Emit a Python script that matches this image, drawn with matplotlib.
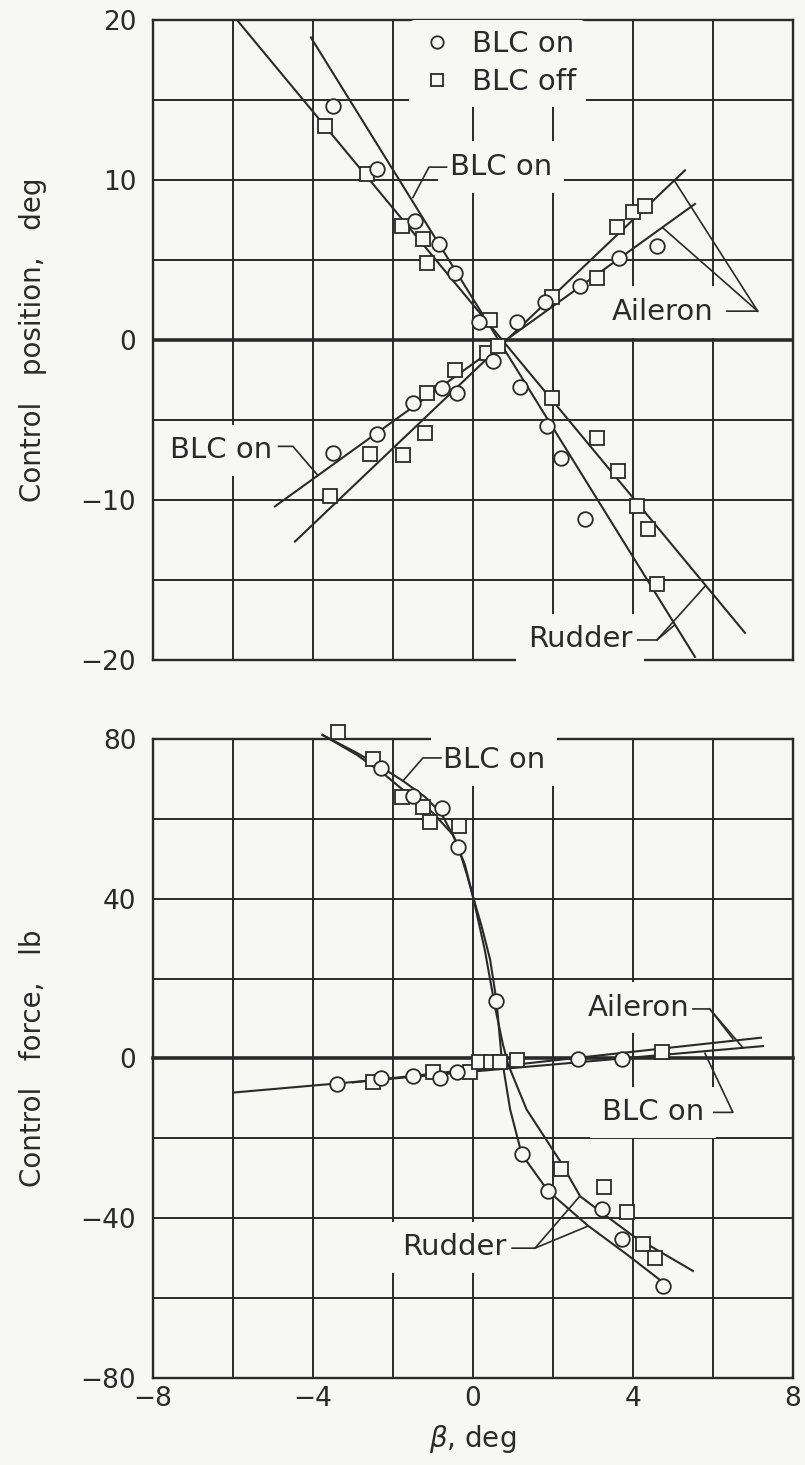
import matplotlib
matplotlib.use('Agg')
import matplotlib.pyplot as plt

BG = '#f7f7f4'
INK = '#2a2a2a'

# ---- top panel: control position, deg ----
pos_on_x = [-3.5, -2.4, -1.45, -0.85, -0.45, 0.15, 1.1, 1.8, 2.68, 3.65, 4.6,
            -3.5, -2.4, -1.5, -0.78, -0.4, 0.5, 1.17, 1.85, 2.2, 2.8]
pos_on_y = [14.6, 10.7, 7.45, 6.0, 4.2, 1.1, 1.1, 2.35, 3.4, 5.1, 5.9,
            -7.05, -5.9, -3.95, -3.0, -3.3, -1.3, -2.95, -5.4, -7.4, -11.2]
pos_off_x = [-3.7, -2.65, -1.78, -1.25, -1.15, 0.43, 1.97, 3.1, 3.6, 4.0, 4.3,
             -3.57, -2.58, -1.75, -1.2, -1.15, -0.45, 0.35, 0.62,
             1.97, 3.1, 3.63, 4.1, 4.38, 4.6]
pos_off_y = [13.4, 10.4, 7.1, 6.3, 4.8, 1.25, 2.7, 3.9, 7.05, 8.0, 8.4,
             -9.75, -7.1, -7.2, -5.8, -3.3, -1.9, -0.8, -0.4,
             -3.6, -6.1, -8.2, -10.4, -11.8, -15.25]

# faired lines (end points)
ail_on_pos_x = [-4.95, 5.55]
ail_on_pos_y = [-10.4, 8.5]
ail_off_pos_x = [-4.45, 5.3]
ail_off_pos_y = [-12.6, 10.6]
rud_on_pos_x = [-4.05, 5.55]
rud_on_pos_y = [18.9, -19.8]
rud_off_pos_x = [-5.9, 6.8]
rud_off_pos_y = [20.0, -18.3]

# ---- bottom panel: control force, lb ----
frc_on_x = [-2.3, -1.5, -0.78, -0.37, 0.58, 1.22, 1.88, 3.22, 3.72, 4.75,
            -3.4, -2.3, -1.5, -0.82, -0.4, 2.63, 3.72]
frc_on_y = [72.8, 65.8, 62.7, 53.0, 14.3, -24.0, -33.2, -37.8, -45.2, -57.0,
            -6.3, -5.0, -4.4, -5.0, -3.4, -0.25, -0.25]
frc_off_x = [-3.37, -2.5, -1.78, -1.25, -1.07, -0.35, 2.2, 3.27, 3.85, 4.25, 4.55,
             -2.5, -1.0, -0.07, 0.15, 0.45, 0.67, 1.1, 4.72]
frc_off_y = [81.8, 75.0, 65.5, 63.0, 59.3, 58.2, -27.75, -32.3, -38.5, -46.5, -50.0,
             -6.0, -3.4, -3.4, -1.0, -0.8, -1.0, -0.3, 1.5]

rud_on_frc_x = [-3.76, -2.9, -2.3, -1.75, -1.2, -0.8, -0.4, -0.15, 0.0, 0.22, 0.43,
                0.59, 0.72, 0.76, 0.93, 1.22, 1.88, 2.88, 3.84, 4.76]
rud_on_frc_y = [81.0, 76.5, 73.0, 69.5, 65.5, 61.5, 54.0, 46.0, 40.6, 33.0, 24.75,
                14.3, -0.25, -2.3, -12.75, -24.0, -33.2, -41.9, -49.0, -56.1]
rud_off_frc_x = [-3.76, -2.9, -2.2, -1.6, -1.0, -0.5, -0.2, 0.0, 0.3, 0.55, 0.75,
                 0.88, 1.34, 2.18, 2.68, 3.22, 4.0, 5.5]
rud_off_frc_y = [81.0, 76.0, 71.0, 66.0, 61.5, 56.0, 48.5, 40.6, 27.0, 13.0, 3.5,
                 -1.5, -12.75, -25.7, -34.5, -38.6, -44.4, -53.2]
ail_on_frc_x = [-5.95, 7.25]
ail_on_frc_y = [-8.5, 3.1]
ail_off_frc_x = [-3.0, 7.2]
ail_off_frc_y = [-6.0, 5.2]

plt.rcParams['font.family'] = ['DejaVu Sans']
plt.rcParams['mathtext.fontset'] = 'dejavusans'

fig = plt.figure(figsize=(8.05, 14.65), dpi=100, facecolor=BG)
ax1 = fig.add_axes([0.190, 0.5495, 0.795, 0.4369])
ax2 = fig.add_axes([0.190, 0.0594, 0.795, 0.4362])

TXT = 21


def style(ax, ymin, ymax, ystep, ylabels, show_x):
    ax.set_facecolor(BG)
    ax.set_xlim(-8, 8)
    ax.set_ylim(ymin, ymax)
    ax.set_xticks(range(-8, 9, 2))
    ax.set_yticks(range(ymin, ymax + 1, ystep))
    if show_x:
        ax.set_xticklabels(['\u22128' if v == -8 else '\u22124' if v == -4 else str(v) if v % 4 == 0 else ''
                            for v in range(-8, 9, 2)])
    else:
        ax.set_xticklabels([])
    ax.set_yticklabels(ylabels)
    ax.grid(True, color=INK, lw=1.4, zorder=0)
    ax.set_axisbelow(True)
    ax.axhline(0, color=INK, lw=2.6, zorder=1)
    for s in ax.spines.values():
        s.set_linewidth(1.7)
        s.set_color(INK)
    ax.tick_params(length=0, labelsize=19, colors=INK)
    ax.tick_params(axis='y', pad=12)
    ax.tick_params(axis='x', pad=6)


def label(ax, x, y, s):
    ax.text(x, y, s, fontsize=TXT, color=INK, ha='left', va='center', zorder=3,
            bbox=dict(boxstyle='square,pad=0.4', fc=BG, ec='none'))


def leader(ax, xs, ys):
    ax.plot(xs, ys, color=INK, lw=1.2, zorder=4)


def markers(ax, xo, yo, xf, yf):
    h1, = ax.plot(xo, yo, 'o', ms=10.5, mfc=BG, mec=INK, mew=1.3, zorder=6, label='BLC on')
    h2, = ax.plot(xf, yf, 's', ms=9.5, mfc=BG, mec=INK, mew=1.3, zorder=5, label='BLC off')
    return h1, h2


# ---------- top ----------
ylab1 = ['\u221220', '', '\u221210', '', '0', '', '10', '', '20']
style(ax1, -20, 20, 5, ylab1, False)
for xs, ys in [(ail_on_pos_x, ail_on_pos_y), (ail_off_pos_x, ail_off_pos_y),
               (rud_on_pos_x, rud_on_pos_y), (rud_off_pos_x, rud_off_pos_y)]:
    ax1.plot(xs, ys, color=INK, lw=1.5, zorder=4)
h1, h2 = markers(ax1, pos_on_x, pos_on_y, pos_off_x, pos_off_y)
ax1.legend(handles=[h1, h2], loc='upper left', bbox_to_anchor=(0.40, 1.0),
           borderaxespad=0.0, frameon=True, facecolor=BG, edgecolor='none',
           framealpha=1, fontsize=TXT, labelcolor=INK, handletextpad=0.6,
           handlelength=1.2, borderpad=0.35, labelspacing=0.35, markerscale=0.85)

label(ax1, -0.58, 10.8, 'BLC on')
leader(ax1, [-0.66, -1.1, -1.5], [10.8, 10.8, 8.9])
label(ax1, 3.47, 1.75, 'Aileron')
leader(ax1, [6.35, 7.12, 5.05], [1.8, 1.8, 9.9])
leader(ax1, [7.12, 4.75], [1.8, 7.0])
label(ax1, -7.57, -6.9, 'BLC on')
leader(ax1, [-4.86, -4.5, -3.9], [-6.65, -6.65, -8.4])
label(ax1, 1.37, -18.7, 'Rudder')
leader(ax1, [4.12, 4.6, 5.05], [-18.75, -18.75, -17.8])
leader(ax1, [4.6, 5.8], [-18.75, -15.4])
ax1.set_ylabel('Control   position,   deg', fontsize=20, color=INK)
ax1.yaxis.set_label_coords(-0.165, 0.5)

# ---------- bottom ----------
ylab2 = ['\u221280', '', '\u221240', '', '0', '', '40', '', '80']
style(ax2, -80, 80, 20, ylab2, True)
for xs, ys in [(ail_on_frc_x, ail_on_frc_y), (ail_off_frc_x, ail_off_frc_y),
               (rud_on_frc_x, rud_on_frc_y), (rud_off_frc_x, rud_off_frc_y)]:
    ax2.plot(xs, ys, color=INK, lw=1.5, zorder=4)
markers(ax2, frc_on_x, frc_on_y, frc_off_x, frc_off_y)
for a in ax2.lines:
    a.set_clip_on(False)

label(ax2, -0.75, 74.75, 'BLC on')
leader(ax2, [-0.8, -1.25, -1.75], [75.25, 75.25, 69.5])
label(ax2, 2.88, 12.75, 'Aileron')
leader(ax2, [5.5, 5.92, 6.5], [12.4, 12.4, 4.9])
leader(ax2, [5.92, 6.75], [12.4, 2.7])
label(ax2, 3.22, -13.5, 'BLC on')
leader(ax2, [6.02, 6.5, 5.8], [-13.5, -13.5, 1.3])
label(ax2, -1.78, -47.25, 'Rudder')
leader(ax2, [0.98, 1.55, 2.67], [-47.5, -47.5, -34.5])
leader(ax2, [1.55, 2.87], [-47.5, -42.0])
ax2.set_ylabel('Control   force,   lb', fontsize=20, color=INK)
ax2.yaxis.set_label_coords(-0.165, 0.5)
ax2.set_xlabel(r'$\beta$, deg', fontsize=20, color=INK, labelpad=8)

fig.savefig('out.png', dpi=100, facecolor=BG)
